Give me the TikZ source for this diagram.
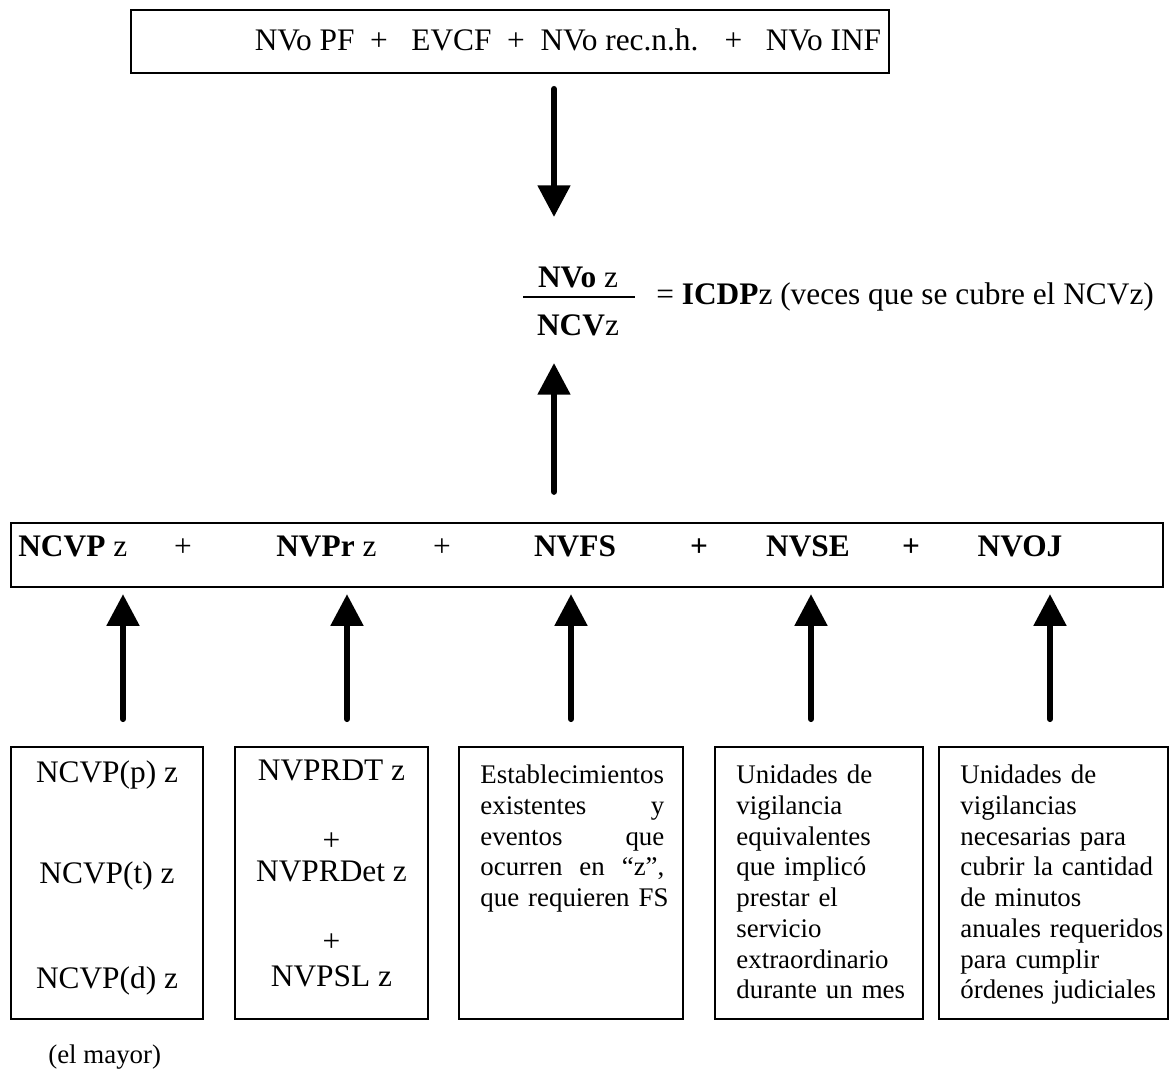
\documentclass[tikz,border=0pt]{standalone}
\usepackage{fontspec}
\setmainfont{Liberation Serif}
\usetikzlibrary{arrows.meta,positioning}

\begin{document}
\begin{tikzpicture}[x=0.02cm, y=-0.02cm,
    bx/.style={rectangle, draw, line width=1.1pt, inner sep=0pt},
    low/.style={rectangle, draw, line width=1.1pt, inner sep=0pt,
               minimum height=5.44cm},
    big/.style={inner sep=0pt, font=\fontsize{17.85}{20}\selectfont},
    tx/.style={inner sep=0pt, align=left, font=\fontsize{15.3}{17.5}\selectfont},
    arr/.style={-{Triangle[length=18pt, width=18pt]}, line width=3.4pt, line cap=round}
  ]
  \useasboundingbox (0,0) rectangle (1171,1073);

  % top row
  \node[bx, minimum width=15.16cm, minimum height=1.26cm] (top) at (510,41.5) {};
  \node[big] (sum) at (568,40)
    {NVo PF \ + \ \ EVCF \ + \ NVo rec.n.h. \ \ + \ \ NVo INF};

  % quotient
  \node[big] (num) at (578,277) {\textbf{NVo} z};
  \node[big] (den) at (578,325) {\textbf{NCV}z};
  \draw[line width=1.2pt] (523,297) -- (635,297);
  \node[big, anchor=west] (icdp) at (656,297) {= \textbf{ICDP}z (veces que se cubre el NCVz)};

  % sum row
  \node[bx, line width=1.3pt, minimum width=23.04cm, minimum height=1.28cm] (mid) at (587,555) {};
  \node[big, anchor=base west] (ncvp) at (18,556) {\textbf{NCVP} z};
  \node[big, anchor=base] (p1) at (183,556) {+};
  \node[big, anchor=base west] (nvpr) at (276,556) {\textbf{NVPr} z};
  \node[big, anchor=base] (p2) at (442,556) {+};
  \node[big, anchor=base] (nvfs) at (575,556) {\textbf{NVFS}};
  \node[big, anchor=base] (p3) at (699,556) {\textbf{+}};
  \node[big, anchor=base] (nvse) at (808,556) {\textbf{NVSE}};
  \node[big, anchor=base] (p4) at (911,556) {\textbf{+}};
  \node[big, anchor=base] (nvoj) at (1020,556) {\textbf{NVOJ}};

  % components
  \node[low, minimum width=3.84cm] (b1) at (107,883) {};
  \node[low, minimum width=3.86cm] (b2) at (331.5,883) {};
  \node[low, minimum width=4.48cm] (b3) at (571,883) {};
  \node[low, minimum width=4.16cm] (b4) at (819,883) {};
  \node[low, minimum width=4.58cm] (b5) at (1053.5,883) {};

  \node[big, align=center, below=0.28cm of b1.north] (t1)
    {NCVP(p) z\\[37.5pt] NCVP(t) z\\[39.8pt] NCVP(d) z};
  \node[big, align=center, below=0.28cm of b2.north] (t2)
    {NVPRDT z\\[19.8pt] +\\[-2.4pt] NVPRDet z\\[19.8pt] +\\[-0.1pt] NVPSL z};
  \node[tx, text width=3.68cm, below right=0.37cm and 0.44cm of b3.north west] (t3)
    {Establecimientos\hfill\null\\ existentes\hfill y\\ eventos\hfill que\\
     ocurren\hfill en\hfill “z”,\\ \mbox{que requieren FS}};
  \node[tx, text width=3.5cm, below right=0.37cm and 0.44cm of b4.north west] (t4)
    {Unidades de\\ vigilancia\\ equivalentes\\ que implicó\\ prestar el\\
     servicio\\ extraordinario\\ durante un mes};
  \node[tx, text width=4.1cm, below right=0.37cm and 0.44cm of b5.north west] (t5)
    {Unidades de\\ vigilancias\\ necesarias para\\ cubrir la cantidad\\
     de minutos\\ anuales requeridos\\ para cumplir\\ órdenes judiciales};

  \node[tx, anchor=west] (mayor) at (48,1057) {(el mayor)};

  % arrows
  \coordinate (tipA) at (554,217);
  \coordinate (tipB) at (554,363);
  \draw[arr, shorten <=0.3cm] (top.south -| tipA) -- (tipA);
  \draw[arr, shorten <=0.6cm] (mid.north -| tipB) -- (tipB);
  \foreach \b/\dx in {b1/0.32,b2/0.31,b3/0,b4/-0.16,b5/-0.07}
    \draw[arr, shorten <=0.54cm, shorten >=0.12cm]
      ([xshift=\dx cm]\b.north) -- ([xshift=\dx cm]\b.north |- mid.south);
\end{tikzpicture}
\end{document}
